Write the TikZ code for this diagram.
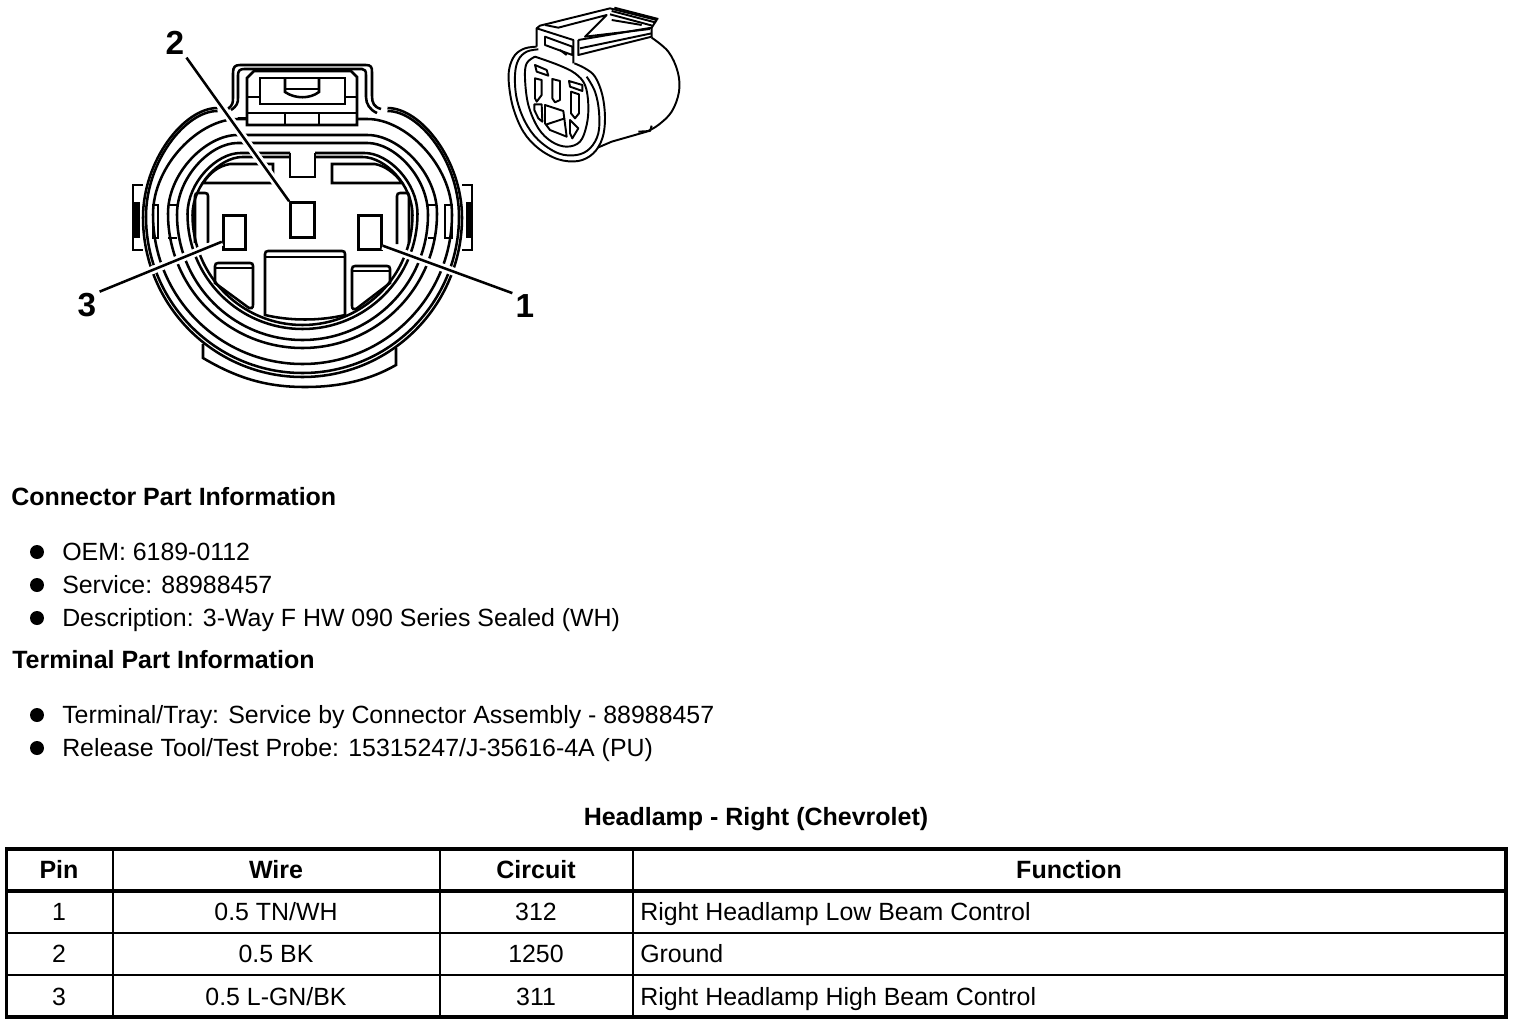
\documentclass[tikz,border=0pt]{standalone}
\usepackage{fontspec}
\setmainfont{Liberation Sans}
\usepackage{tikz}

\tikzset{
  ringline/.style={line width=1.9pt},
  isoline/.style={line width=1.45pt,line join=round},
  leader/.style={line width=1.9pt,shorten <=2.5pt,preaction={draw,white,line width=6pt}},
  pinbox/.style={draw,line width=2.1pt,fill=white,inner sep=0pt},
  calloutlbl/.style={inner sep=0pt,font=\fontsize{25}{28}\selectfont\bfseries},
  bodytxt/.style={inner sep=0pt,anchor=base west,font=\fontsize{18.68}{20}\selectfont},
  headtxt/.style={inner sep=0pt,anchor=base west,font=\fontsize{18.75}{20}\selectfont\bfseries},
  celltxt/.style={inner sep=0pt,anchor=base,font=\fontsize{18.68}{20}\selectfont},
  funtxt/.style={inner sep=0pt,anchor=base west,font=\fontsize{18.68}{20}\selectfont},
  coltxt/.style={inner sep=0pt,anchor=base,font=\fontsize{18.75}{20}\selectfont\bfseries},
  dotmark/.style={circle,fill=black,inner sep=0pt,minimum size=10.5pt},
  heavyrule/.style={line width=2.4pt},
  lightrule/.style={line width=1.6pt}
}

% half width, top, bottom, flat, end
\newcommand{\ringarc}[5]{%
  \draw[ringline] ({302.5-#5},#2) -- ({302.5-#4},#2)
    .. controls ({302.5-#4-0.45*(#1-#4)},#2) and ({302.5-#1},{#3-#1-0.52*(#3-#1-#2)}) .. ({302.5-#1},{#3-#1})
    .. controls ({302.5-#1},{#3-#1+0.5523*#1}) and ({302.5-0.5523*#1},#3) .. (302.5,#3)
    .. controls ({302.5+0.5523*#1},#3) and ({302.5+#1},{#3-#1+0.5523*#1}) .. ({302.5+#1},{#3-#1})
    .. controls ({302.5+#1},{#3-#1-0.52*(#3-#1-#2)}) and ({302.5+#4+0.45*(#1-#4)},#2) .. ({302.5+#4},#2)
    -- ({302.5+#5},#2);
}

\begin{document}
\begin{tikzpicture}[x=0.75pt,y=0.75pt,yscale=-1,xscale=1]
\useasboundingbox (0,0) rectangle (1520,1024);

% Lower tab
\draw[ringline] (203,344) -- (203,358) .. controls (240,380) and (270,387) .. (305,387) .. controls (340,387) and (370,380) .. (396,365) -- (396,348);

% Rings
\ringarc{159.5}{108}{377}{85}{85}
\ringarc{156.5}{111}{373}{85}{85}
\ringarc{149.5}{119}{364}{65}{50}
\ringarc{134.5}{135}{348}{65}{0}
\ringarc{125.5}{143}{340}{65}{0}
\ringarc{115}{153}{329}{62}{12.5}
\ringarc{110}{157}{325}{60}{12.5}
\draw[ringline] (290,153) -- (290,177) -- (315,177) -- (315,153);

% Ears
\draw[ringline] (143,185) -- (133,185) -- (133,250) -- (143,250);
\fill (133,202) rectangle (140,238);
\draw[ringline] (462,185) -- (472,185) -- (472,250) -- (462,250);
\fill (466,202) rectangle (472,238);
\draw[ringline] (153,205) rectangle (158,238);
\draw[ringline] (445,205) rectangle (452,238);
\draw[ringline] (168,205) -- (177,205);
\draw[ringline] (168,238) -- (177,238);
\draw[ringline] (428,205) -- (436,205);
\draw[ringline] (428,238) -- (436,238);

% Latch
\draw[ringline] (228,109) .. controls (233,105) and (233,102) .. (233,98) -- (233,73) .. controls (233,67) and (235,65) .. (240,65) -- (366,65) .. controls (371,65) and (372,67) .. (372,72) -- (372,96) .. controls (372,103) and (374,107) .. (381,109);
\draw[ringline] (231,110) .. controls (237,106) and (238,103) .. (238,98) -- (238,75) .. controls (238,71) and (240,69) .. (244,69) -- (362,69) .. controls (365,69) and (366,71) .. (366,75) -- (366,97) .. controls (366,104) and (370,110) .. (377,113);
\draw[ringline,fill=white] (247,125) -- (247,78) -- (254,71) -- (351,71) -- (357,77) -- (357,125) -- cycle;
\draw[ringline] (260,104) -- (260,78) -- (345,78) -- (345,104) -- cycle;
\draw[ringline] (248,113) -- (357,113);
\draw[ringline] (285,113) -- (285,125);
\draw[ringline] (319,113) -- (319,125);
\draw[ringline] (247,97) -- (260,97);
\draw[ringline] (345,97) -- (357,97);
\draw[ringline] (285,78) -- (285,92) .. controls (295,99) and (310,99) .. (319,92) -- (319,78);
\draw[ringline] (285,89) -- (319,89);
\draw[ringline] (238,118) -- (247,118);

% Slots
\draw[ringline] (273,164) -- (273,183) -- (203,183) .. controls (210,173) and (218,166) .. (230,164) -- cycle;
\draw[ringline] (332,164) -- (332,183) -- (402,183) .. controls (395,173) and (385,166) .. (375,164) -- cycle;
\draw[ringline] (195,243) -- (195,196) .. controls (195,194) and (196,193) .. (198,193) -- (205,193) .. controls (207,193) and (208,194) .. (208,196) -- (208,243);
\draw[ringline] (397,244) -- (397,196) .. controls (397,194) and (398,193) .. (400,193) -- (406,193) .. controls (408,193) and (409,194) .. (409,196) -- (409,243);

% Windows
\draw[ringline] (265,254) .. controls (265,252) and (266,251) .. (268,251) -- (342,251) .. controls (344,251) and (345,252) .. (345,254) -- (345,315) .. controls (320,321) and (290,321) .. (265,315) -- cycle;
\draw[ringline] (265,257) -- (345,257);
\draw[ringline] (215,266) .. controls (215,264) and (216,263) .. (218,263) -- (250,263) .. controls (252,263) and (253,264) .. (253,266) -- (253,305) .. controls (253,308) and (251,309) .. (249,308) -- (215,283) -- cycle;
\draw[ringline] (215,268) -- (253,268);
\draw[ringline] (352,269) .. controls (352,267) and (353,266) .. (355,266) -- (387,266) .. controls (389,266) and (390,267) .. (390,269) -- (390,283) -- (356,309) .. controls (354,310) and (352,309) .. (352,306) -- cycle;
\draw[ringline] (352,271) -- (390,271);

% Text Node
\node[calloutlbl] (lblTwo) at (175,43) {2};
% Text Node
\node[calloutlbl] (lblThree) at (87,305) {3};
% Text Node
\node[calloutlbl] (lblOne) at (525,306) {1};

% Pin
\node[pinbox,minimum width=18pt,minimum height=26pt] (pinTwo) at (302.5,220) {};
% Pin
\node[pinbox,minimum width=17pt,minimum height=26pt] (pinThree) at (234.5,232.5) {};
% Pin
\node[pinbox,minimum width=17pt,minimum height=26pt] (pinOne) at (370,232.5) {};

% Connection
\draw[leader] (lblTwo.south east) -- (pinTwo.north west);
% Connection
\draw[leader] (lblThree.north east) -- (pinThree.216);
% Connection
\draw[leader] (lblOne.north west) -- (pinOne.314);

% Small view
\begin{scope}[shift={(495,5)},x=0.25pt,y=0.25pt]
\draw[isoline] plot[smooth,tension=0.6] coordinates {(125,125) (90,130) (60,150) (43,190) (42,240) (55,310) (85,380) (130,430) (190,463) (250,468) (295,445) (322,400) (330,340) (322,270) (300,215) (270,190) (238,175)};
\draw[isoline] plot[smooth,tension=0.6] coordinates {(130,133) (95,140) (70,165) (60,210) (65,280) (90,350) (130,405) (190,445) (245,450) (285,430) (310,385) (312,320) (300,260) (275,215)};
\draw[isoline] plot[smooth,tension=0.6] coordinates {(120,155) (95,175) (90,220) (100,300) (130,370) (170,410) (215,425) (255,410) (275,360) (280,300) (270,240) (240,205) (190,180) (120,155)};
\draw[isoline] (120,180) -- (155,195) -- (160,212) -- (125,200) -- cycle;
\draw[isoline] (120,220) -- (140,225) -- (140,270) -- (125,290) -- (120,280) -- cycle;
\draw[isoline] (172,222) -- (195,228) -- (195,285) -- (180,292) -- (172,280) -- cycle;
\draw[isoline] (222,228) -- (262,240) -- (262,258) -- (225,245) -- cycle;
\draw[isoline] (228,260) -- (252,268) -- (252,325) -- (240,340) -- (228,325) -- cycle;
\draw[isoline] (118,298) -- (140,298) -- (142,350) -- (130,340) -- (118,315) -- cycle;
\draw[isoline] (150,300) -- (205,318) -- (215,395) -- (165,375) -- (150,355) -- cycle;
\draw[isoline] (155,358) -- (210,340);
\draw[isoline] (225,345) -- (250,370) -- (232,400) -- (225,385) -- cycle;
\draw[isoline] (125,125) -- (125,70) -- (135,62) -- (345,10) -- (485,45) -- (470,68) -- (250,105);
\draw[isoline] (125,70) -- (235,105) -- (235,175);
\draw[isoline] (250,105) -- (250,150) -- (470,95) -- (470,68);
\draw[isoline] (255,130) -- (470,85);
\draw[isoline] (150,60) -- (190,68) -- (335,30) -- (270,95) -- (465,72);
\draw[isoline] (358,8) -- (490,42);
\draw[isoline] (350,18) -- (480,52);
\draw[isoline] (345,28) -- (472,62);
\draw[isoline] (350,45) -- (440,60);
\draw[isoline] (150,95) -- (232,125) -- (232,150) -- (150,120) -- cycle;
\draw[isoline] (195,135) -- (215,150);
\draw[isoline] plot[smooth,tension=0.6] coordinates {(470,98) (520,140) (548,200) (552,260) (530,320) (490,360) (455,380)};
\draw[isoline] (455,380) -- (350,410) -- (308,428);
\draw[isoline] (470,362) -- (465,378) -- (430,380);
\end{scope}

% Text Node
\node[headtxt] (hdrConn) at (11,505) {Connector Part Information};
% Text Node
\node[dotmark] (dotA) at (37,552) {};
\node[bodytxt] (txtOem) at (62,560) {OEM: 6189-0112};
\node[dotmark] (dotB) at (37,585) {};
\node[bodytxt] (txtSvc) at (62,593) {Service: 88988457};
\node[dotmark] (dotC) at (37,618) {};
\node[bodytxt] (txtDesc) at (62,626) {Description: 3-Way F HW 090 Series Sealed (WH)};
% Text Node
\node[headtxt] (hdrTerm) at (12,668) {Terminal Part Information};
\node[dotmark] (dotD) at (37,715) {};
\node[bodytxt] (txtTray) at (62,723) {Terminal/Tray: Service by Connector Assembly - 88988457};
\node[dotmark] (dotE) at (37,748) {};
\node[bodytxt] (txtTool) at (62,756) {Release Tool/Test Probe: 15315247/J-35616-4A (PU)};
% Text Node
\node[coltxt] (capTable) at (756,825) {Headlamp - Right (Chevrolet)};

% Table
\draw[heavyrule] (6.5,849) rectangle (1506,1017);
\draw[heavyrule] (6.5,891) -- (1506,891);
\draw[lightrule] (6.5,933) -- (1506,933);
\draw[lightrule] (6.5,975) -- (1506,975);
\draw[lightrule] (113,849) -- (113,1017);
\draw[lightrule] (440,849) -- (440,1017);
\draw[lightrule] (633,849) -- (633,1017);

% Text Node
\node[coltxt] (colPin) at (59,878) {Pin};
\node[coltxt] (colWire) at (276,878) {Wire};
\node[coltxt] (colCirc) at (536,878) {Circuit};
\node[coltxt] (colFunc) at (1069,878) {Function};
% Text Node
\node[celltxt] (pinA) at (59,920) {1};
\node[celltxt] (wireA) at (276,920) {0.5 TN/WH};
\node[celltxt] (circA) at (536,920) {312};
\node[funtxt] (funcA) at (640,920) {Right Headlamp Low Beam Control};
% Text Node
\node[celltxt] (pinB) at (59,962) {2};
\node[celltxt] (wireB) at (276,962) {0.5 BK};
\node[celltxt] (circB) at (536,962) {1250};
\node[funtxt] (funcB) at (640,962) {Ground};
% Text Node
\node[celltxt] (pinC) at (59,1005) {3};
\node[celltxt] (wireC) at (276,1005) {0.5 L-GN/BK};
\node[celltxt] (circC) at (536,1005) {311};
\node[funtxt] (funcC) at (640,1005) {Right Headlamp High Beam Control};

\end{tikzpicture}
\end{document}
